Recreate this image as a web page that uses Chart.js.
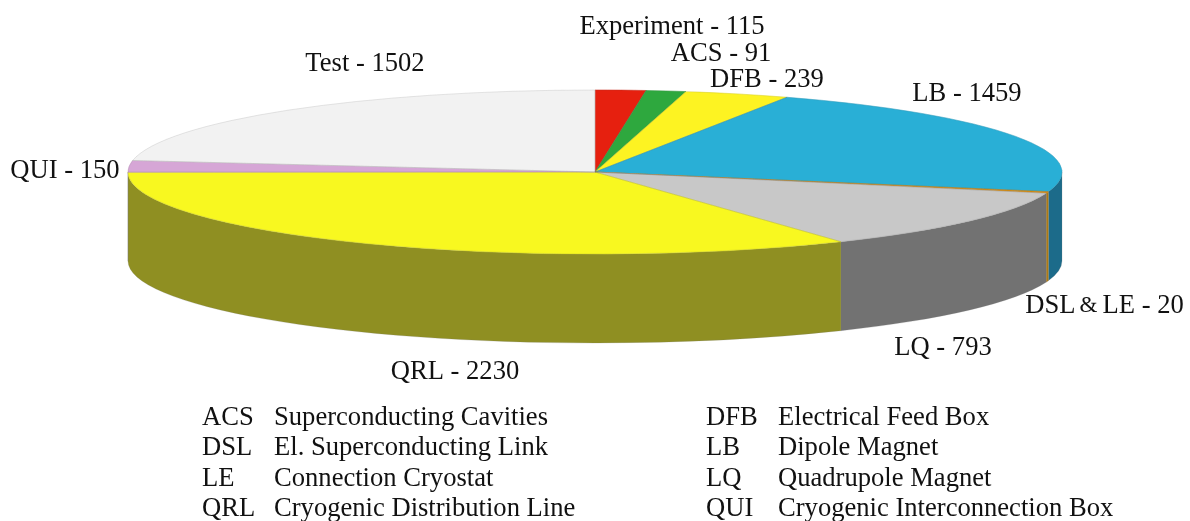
<!DOCTYPE html>
<html>
<head>
<meta charset="utf-8">
<title>Cryostat non-conformities</title>
<script src="https://cdn.jsdelivr.net/npm/chart.js@4/dist/chart.umd.min.js"></script>
<style>
  html, body { margin: 0; padding: 0; background: #fff; }
  #wrap { width: 1190px; height: 521px; overflow: hidden; }
  canvas { display: block; }
</style>
</head>
<body>
<div id="wrap"><canvas id="pie" width="1190" height="521"></canvas></div>
<script>
const categories = ['Experiment', 'ACS', 'DFB', 'LB', 'DSL & LE', 'LQ', 'QRL', 'QUI', 'Test'];
const values = [115, 91, 239, 1459, 20, 793, 2230, 150, 1502];
const topColors = ['#e6200f', '#2ea83e', '#fdf322', '#29afd6', '#e08c00', '#c8c8c8', '#f8f820', '#d6a6d6', '#f2f2f2'];
const sideColors = ['#8a1409', '#1b6425', '#979114', '#1c6b8a', '#b07a10', '#727272', '#8f8f22', '#806380', '#919191'];

const legendCodes = ['ACS', 'DSL', 'LE', 'QRL', 'DFB', 'LB', 'LQ', 'QUI'];
const legendNames = ['Superconducting Cavities', 'El. Superconducting Link', 'Connection Cryostat', 'Cryogenic Distribution Line',
  'Electrical Feed Box', 'Dipole Magnet', 'Quadrupole Magnet', 'Cryogenic Interconnection Box'];

// where each slice label sits, same order as categories
const labelX = [672, 721, 767, 967, 1104.5, 943, 455, 65, 365];
const labelY = [27, 54, 80, 94, 306, 348, 372, 171, 64];

const FONT = '26.6px "Liberation Serif"';
const cx = 595, cy = 172, rx = 467, ry = 82, depth = 89;

const pie3d = {
  id: 'pie3d',
  beforeDatasetsDraw(chart) {
    const ctx = chart.ctx;
    const arcs = chart.getDatasetMeta(0).data;
    // side wall, only the part of each slice facing the viewer
    arcs.forEach(function (arc, i) {
      const s = Math.max(arc.startAngle, 0);
      const e = Math.min(arc.endAngle, Math.PI);
      if (s >= e) return;
      ctx.beginPath();
      ctx.ellipse(cx, cy, rx, ry, 0, s, e);
      ctx.ellipse(cx, cy + depth, rx, ry, 0, e, s, true);
      ctx.closePath();
      ctx.fillStyle = sideColors[i];
      ctx.fill();
      ctx.strokeStyle = 'rgba(120,120,120,0.3)';
      ctx.lineWidth = 0.7;
      ctx.stroke();
    });
    // squash the flat pie into the ellipse of the top face
    const a = arcs[0];
    ctx.save();
    ctx.translate(cx, cy);
    ctx.scale(rx / a.outerRadius, ry / a.outerRadius);
    ctx.translate(-a.x, -a.y);
  },
  afterDatasetsDraw(chart) {
    const ctx = chart.ctx;
    ctx.restore();
    // thin outline of each slice, at a constant width
    chart.getDatasetMeta(0).data.forEach(function (arc) {
      ctx.beginPath();
      ctx.moveTo(cx, cy);
      ctx.ellipse(cx, cy, rx, ry, 0, arc.startAngle, arc.endAngle);
      ctx.closePath();
      ctx.strokeStyle = 'rgba(90,90,90,0.18)';
      ctx.lineWidth = 0.7;
      ctx.stroke();
    });
  },
  afterDraw(chart) {
    const ctx = chart.ctx;
    ctx.save();
    ctx.font = FONT;
    ctx.fillStyle = '#111';
    ctx.textBaseline = 'middle';
    ctx.textAlign = 'center';
    categories.forEach(function (c, i) {
      const text = c + ' - ' + values[i];
      if (c.includes('&')) {
        // this label is set tight with a small ampersand
        const parts = text.split(' & ');
        const w0 = ctx.measureText(parts[0]).width;
        const w2 = ctx.measureText(parts[1]).width;
        const left = labelX[i] - (w0 + w2 + 27) / 2;
        ctx.textAlign = 'left';
        ctx.fillText(parts[0], left, labelY[i]);
        ctx.font = '23px "Liberation Serif"';
        ctx.fillText('&', left + w0 + 4, labelY[i]);
        ctx.font = FONT;
        ctx.fillText(parts[1], left + w0 + 27, labelY[i]);
        ctx.textAlign = 'center';
      } else {
        ctx.fillText(text, labelX[i], labelY[i]);
      }
    });
    ctx.textAlign = 'left';
    legendCodes.forEach(function (code, i) {
      const col = i < 4 ? 0 : 1;
      const y = 418 + (i % 4) * 30.5;
      ctx.fillText(code, 202 + col * 504, y);
      ctx.fillText(legendNames[i], 274 + col * 504, y);
    });
    ctx.restore();
  }
};

new Chart(document.getElementById('pie'), {
  type: 'pie',
  data: {
    labels: categories,
    datasets: [{ data: values, backgroundColor: topColors, borderColor: topColors, borderWidth: 0.3 }]
  },
  options: {
    responsive: false,
    animation: false,
    layout: { padding: { top: 0, bottom: 177 } },
    plugins: { legend: { display: false }, tooltip: { enabled: false } }
  },
  plugins: [pie3d]
});
</script>
</body>
</html>
